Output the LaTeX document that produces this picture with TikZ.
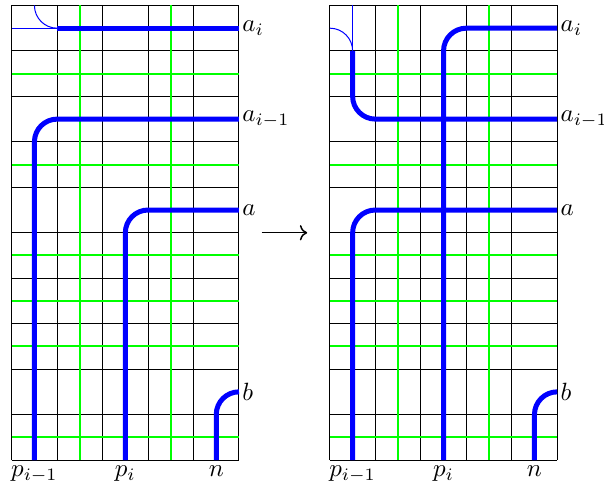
\documentclass[tikz,border=0pt]{standalone}
\usetikzlibrary{arrows.meta}
\begin{document}
\begin{tikzpicture}[x=0.32cm,y=0.32cm,
  gridline/.style={black, line width=0.4pt},
  greenline/.style={green, line width=0.8pt},
  thickpath/.style={blue, line width=2pt, rounded corners=0.32cm},
  thinpath/.style={blue, line width=0.5pt},
  thinarc/.style={blue, line width=0.4pt},
  rlabel/.style={anchor=west, inner sep=1.2pt},
  blabel/.style={anchor=north, inner sep=2pt},
  arrowline/.style={semithick, ->}]
\useasboundingbox (-0.515,-1.1) rectangle (26.06,20.24);
\newcommand\mybasegrid{%
  \foreach \x in {0,2,...,10} \draw[gridline] (\x,0) -- (\x,20);
  \foreach \y in {0,2,...,20} \draw[gridline] (0,\y) -- (10,\y);
  \foreach \x in {3,7} \draw[greenline] (\x,0) -- (\x,20);
  \foreach \y in {1,5,7,9,13,17} \draw[greenline] (0,\y) -- (10,\y);
}
% left grid
\begin{scope}
  \mybasegrid
  \draw[thinpath] (0,19) -- (2,19);
  \draw[thinarc] (1,20) arc[start angle=180, end angle=270, radius=1];
  \draw[thickpath] (2,19) -- (10,19);
  \draw[thickpath] (1,0) -- (1,15) -- (10,15);
  \draw[thickpath] (5,0) -- (5,11) -- (10,11);
  \draw[blue, line width=2pt] (9,0) -- (9,2) arc[start angle=180, end angle=90, radius=1];
  \node[rlabel] (Lai) at (10,19) {$a_i$};
  \node[rlabel] (Laim) at (10,15) {$a_{i-1}$};
  \node[rlabel] (La) at (10,11) {$a$};
  \node[rlabel] (Lb) at (10,3) {$b$};
  \node[blabel] (Lpim) at (1,0) {$p_{i-1}$};
  \node[blabel] (Lpi) at (5,0) {$p_i$};
  \node[blabel] (Ln) at (9,0) {$n$};
\end{scope}
% right grid
\begin{scope}[shift={(14,0)}]
  \mybasegrid
  \draw[thinpath] (1,20) -- (1,18);
  \draw[thinarc] (0,19) arc[start angle=90, end angle=0, radius=1];
  \draw[thickpath] (1,18) -- (1,15) -- (10,15);
  \draw[thickpath] (5,0) -- (5,19) -- (10,19);
  \draw[thickpath] (1,0) -- (1,11) -- (10,11);
  \draw[blue, line width=2pt] (9,0) -- (9,2) arc[start angle=180, end angle=90, radius=1];
  \node[rlabel] (Rai) at (10,19) {$a_i$};
  \node[rlabel] (Raim) at (10,15) {$a_{i-1}$};
  \node[rlabel] (Ra) at (10,11) {$a$};
  \node[rlabel] (Rb) at (10,3) {$b$};
  \node[blabel] (Rpim) at (1,0) {$p_{i-1}$};
  \node[blabel] (Rpi) at (5,0) {$p_i$};
  \node[blabel] (Rn) at (9,0) {$n$};
\end{scope}
\coordinate (arrS) at (11,10);
\coordinate (arrE) at (13,10);
\draw[arrowline] (arrS) -- (arrE);
\end{tikzpicture}
\end{document}
